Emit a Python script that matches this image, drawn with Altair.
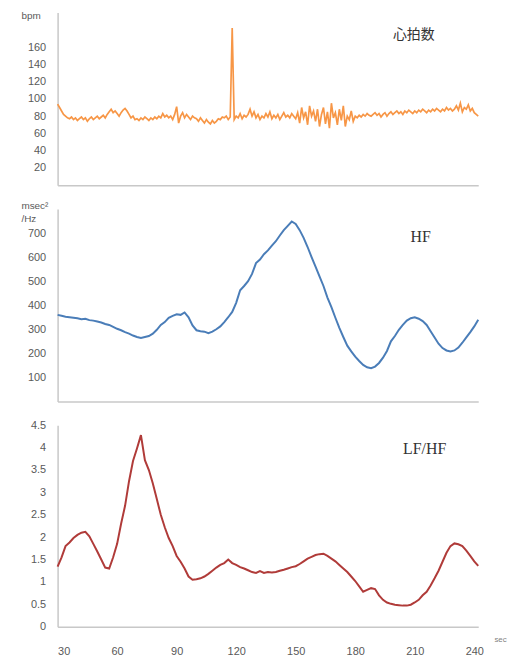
import altair as alt
import pandas as pd

# ---- data ----
hr_sec = list(range(30, 243))
hr_bpm = [
    94, 90, 86, 82, 80, 78, 77, 79, 76, 78,
    75, 77, 79, 76, 78, 74, 77, 79, 76, 78,
    80, 77, 79, 81, 78, 82, 85, 88, 84, 86,
    83, 80, 84, 87, 89, 86, 82, 78, 80, 76,
    77, 75, 78, 76, 79, 77, 75, 78, 76, 79,
    77, 80, 78, 83, 79, 81, 78, 80, 76, 82,
    91, 72, 80, 84, 78, 82, 79, 76, 80, 78,
    77, 74, 78, 75, 72, 76, 73, 71, 75, 72,
    74, 77, 76, 79, 78, 80, 76, 79, 182, 76,
    80, 78, 83, 77, 81, 79, 82, 88, 80, 85,
    78, 82, 76, 80, 78, 83, 79, 85, 77, 81,
    78, 82, 76, 80, 84, 79, 81, 78, 83, 80,
    77, 84, 72, 90, 78, 85, 70, 92, 80, 86,
    74, 88, 68, 82, 90, 71, 85, 66, 95, 78,
    84, 70, 88, 75, 92, 68, 80, 76, 86, 74,
    80, 78, 81, 79, 82, 80, 83, 81, 80, 82,
    84, 81, 83, 79, 82, 84, 80, 83, 85, 82,
    84, 86, 83, 85, 82, 86, 84, 87, 85, 83,
    86, 84, 87, 85, 88, 86, 84, 87, 85, 88,
    86, 89, 87, 85, 88, 86, 90, 87, 89, 86,
    88, 92, 87, 95, 85, 90, 88, 93, 86, 89,
    84, 82, 80,
]

hf_sec = list(range(30, 243, 2))
hf_val = [
    360, 356, 352, 350, 348, 346, 342, 344, 338, 336,
    332, 328, 322, 318, 310, 302, 296, 288, 282, 274,
    268, 264, 268, 272, 282, 298, 318, 330, 348, 356,
    362, 360, 370, 350, 316, 296, 292, 290, 284, 290,
    300, 312, 330, 350, 372, 410, 462, 480, 500, 530,
    575, 590, 612, 628, 648, 666, 690, 712, 730, 748,
    738, 712, 680, 642, 600, 560, 520, 480, 432, 392,
    348, 306, 268, 232, 208, 186, 168, 152, 142, 138,
    145, 160, 182, 210, 250, 272, 298, 318, 336, 346,
    350, 344, 334, 318, 292, 266, 240, 222, 212, 208,
    212, 224, 244, 266, 288, 312, 340,
]

lfhf_sec = list(range(30, 243, 2))
lfhf_val = [
    1.34, 1.55, 1.80, 1.88, 1.98, 2.05, 2.10, 2.12, 2.02, 1.85,
    1.68, 1.50, 1.32, 1.30, 1.55, 1.85, 2.30, 2.70, 3.25, 3.70,
    3.98, 4.28, 3.72, 3.50, 3.20, 2.85, 2.50, 2.22, 1.98, 1.80,
    1.58, 1.45, 1.30, 1.12, 1.05, 1.06, 1.08, 1.12, 1.18, 1.25,
    1.32, 1.38, 1.42, 1.50, 1.42, 1.38, 1.33, 1.30, 1.26, 1.22,
    1.20, 1.24, 1.20, 1.22, 1.21, 1.22, 1.25, 1.27, 1.30, 1.33,
    1.35, 1.40, 1.46, 1.52, 1.56, 1.60, 1.62, 1.63, 1.58, 1.52,
    1.46, 1.38, 1.30, 1.22, 1.12, 1.02, 0.90, 0.78, 0.82, 0.86,
    0.84, 0.70, 0.60, 0.54, 0.51, 0.49, 0.48, 0.47, 0.47, 0.49,
    0.54, 0.60, 0.70, 0.78, 0.92, 1.08, 1.25, 1.45, 1.65, 1.80,
    1.86, 1.84, 1.80, 1.70, 1.58, 1.46, 1.36,
]

x_ticks = [30, 60, 90, 120, 150, 180, 210, 240]
hr_ticks = [20, 40, 60, 80, 100, 120, 140, 160]
hf_ticks = [100, 200, 300, 400, 500, 600, 700]
lfhf_ticks = [0, 0.5, 1, 1.5, 2, 2.5, 3, 3.5, 4, 4.5]

W = 424
LABEL_FONT = "Liberation Sans"
xs = alt.Scale(domain=[30, 242], nice=False, zero=False)


def yaxis(values, title, title_y, fmt=None):
    kw = dict(values=values, title=title, titleAngle=0, titleX=-37, titleY=title_y,
              titleAlign="left", titleBaseline="middle", titleFontSize=10,
              titleFontWeight="normal", titleColor="#595959", titleFont=LABEL_FONT,
              titleLineHeight=13)
    if fmt:
        kw["format"] = fmt
    return alt.Axis(**kw)


def panel_title(text, x, y, font, size):
    return alt.Chart(pd.DataFrame({"t": [text]})).mark_text(
        font=font, fontSize=size, color="#333333", align="center", baseline="middle"
    ).encode(text="t:N", x=alt.value(x), y=alt.value(y))


no_x_axis = alt.Axis(labels=False, ticks=False, title=None)

hr_df = pd.DataFrame({"sec": hr_sec, "v": hr_bpm})
top = alt.layer(
    alt.Chart(hr_df).mark_line(color="#F79646", strokeWidth=1.7).encode(
        x=alt.X("sec:Q", scale=xs, axis=no_x_axis),
        y=alt.Y("v:Q", scale=alt.Scale(domain=[0, 200], nice=False),
                axis=yaxis(hr_ticks, "bpm", 3)),
    ),
    panel_title("心拍数", 359, 23, "Noto Sans CJK JP", 14),
).properties(width=W, height=174)

hf_df = pd.DataFrame({"sec": hf_sec, "v": hf_val})
mid = alt.layer(
    alt.Chart(hf_df).mark_line(color="#4A7DB8", strokeWidth=2).encode(
        x=alt.X("sec:Q", scale=xs, axis=no_x_axis),
        y=alt.Y("v:Q", scale=alt.Scale(domain=[0, 800], nice=False),
                axis=yaxis(hf_ticks, ["msec²", "/Hz"], -3)),
    ),
    panel_title("HF", 366, 28, "Liberation Serif", 16),
).properties(width=W, height=194)

lf_df = pd.DataFrame({"sec": lfhf_sec, "v": lfhf_val})
bot = alt.layer(
    alt.Chart(lf_df).mark_line(color="#B03B39", strokeWidth=2).encode(
        x=alt.X("sec:Q", scale=xs,
                axis=alt.Axis(values=x_ticks, title="sec", labelPadding=19,
                              titleX=446, titleY=13, titleAlign="center",
                              titleBaseline="middle", titleFontSize=8,
                              titleFontWeight="normal", titleColor="#7f7f7f",
                              titleFont=LABEL_FONT)),
        y=alt.Y("v:Q", scale=alt.Scale(domain=[0, 4.5], nice=False),
                axis=yaxis(lfhf_ticks, None, 0, fmt="~g")),
    ),
    panel_title("LF/HF", 370, 24, "Liberation Serif", 16),
).properties(width=W, height=203)

chart = alt.vconcat(top, mid, bot, spacing=24, bounds="flush").properties(
    padding={"top": 0, "left": 13, "right": 0, "bottom": 0}
).configure_view(stroke=None).configure_axis(
    grid=False, ticks=False, labelPadding=12, labelFont=LABEL_FONT,
    labelFontSize=11, labelColor="#595959", domainColor="#c8c8c8", domainWidth=1.5,
)

chart.save("out.html", embed_options={"renderer": "svg", "actions": False})
